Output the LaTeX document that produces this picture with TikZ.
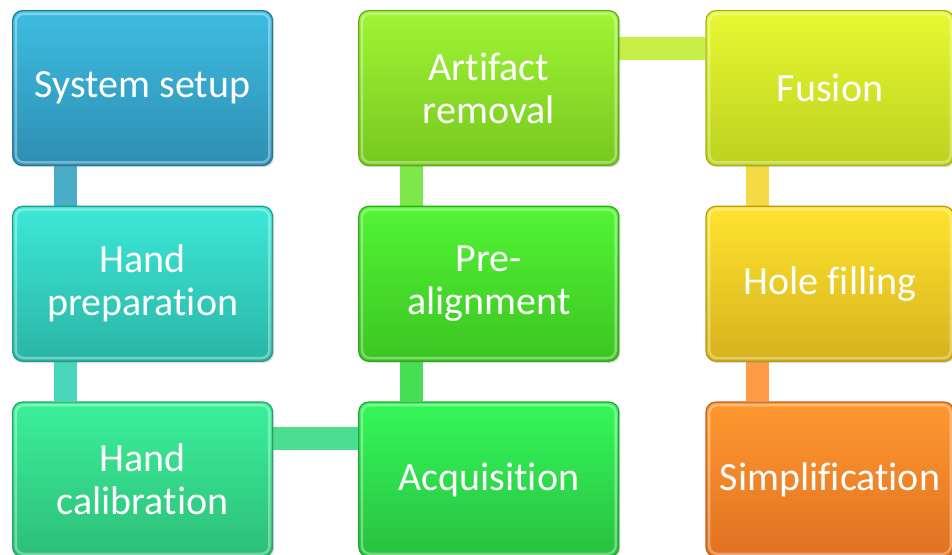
\documentclass[tikz,border=0pt]{standalone}
\usepackage{fontspec}
\setmainfont{Carlito}[RawFeature={-liga;-clig;-calt;-dlig}]
\usetikzlibrary{positioning,shadows,backgrounds}

\definecolor{setupT}{HTML}{3DBDE0}\definecolor{setupB}{HTML}{2E8EB3}
\definecolor{prepT}{HTML}{3CE8D8}\definecolor{prepB}{HTML}{2AB5A5}
\definecolor{calibT}{HTML}{3BF09A}\definecolor{calibB}{HTML}{2DBE78}
\definecolor{artifT}{HTML}{A0F535}\definecolor{artifB}{HTML}{76C81E}
\definecolor{prealT}{HTML}{52F535}\definecolor{prealB}{HTML}{3CC422}
\definecolor{acqT}{HTML}{35F85A}\definecolor{acqB}{HTML}{28C040}
\definecolor{fusT}{HTML}{E8F832}\definecolor{fusB}{HTML}{BDD11F}
\definecolor{holeT}{HTML}{FFE42E}\definecolor{holeB}{HTML}{D6B21E}
\definecolor{simpT}{HTML}{FF9830}\definecolor{simpB}{HTML}{E07222}

\tikzset{
  stage/.style 2 args={rounded corners=5pt,minimum width=130pt,minimum height=77.5pt,
    inner sep=2pt,align=center,text=white,font=\fontsize{20pt}{21.5pt}\selectfont,
    top color=#1,bottom color=#2,draw=#2!85!black,line width=0.6pt,
    drop shadow={opacity=0.25,shadow xshift=0.8pt,shadow yshift=-0.8pt},
    path picture={\draw[white,opacity=0.35,line width=1.2pt,rounded corners=4pt]
      ([shift={(1.6pt,-1.6pt)}]path picture bounding box.north west) rectangle
      ([shift={(-1.6pt,1.6pt)}]path picture bounding box.south east);}},
}

\begin{document}
\begin{tikzpicture}[node distance=19.75pt and 42.5pt]
    \useasboundingbox (0,0) rectangle (476pt,-277pt);

    \node[stage={setupT}{setupB},anchor=north west] (setup) at (6pt,-5pt) {System setup};
    \node[stage={prepT}{prepB},below=of setup] (prep) {Hand\\preparation};
    \node[stage={calibT}{calibB},below=of prep] (calib) {Hand\\calibration};

    \node[stage={acqT}{acqB},right=of calib] (acq) {Acquisition};
    \node[stage={prealT}{prealB},above=of acq] (preal) {Pre-\\alignment};
    \node[stage={artifT}{artifB},above=of preal] (artif) {Artifact\\removal};

    \node[stage={fusT}{fusB},minimum width=124pt,anchor=north west] (fus) at ([xshift=43pt]artif.north east) {Fusion};
    \node[stage={holeT}{holeB},minimum width=124pt,below=of fus] (hole) {Hole filling};
    \node[stage={simpT}{simpB},minimum width=124pt,below=of hole] (simp) {Simplification};

    \begin{scope}[on background layer]
    \path[line width=11.5pt]
    ([xshift=26.5pt]setup.south west) edge[draw={rgb,255:red,74;green,173;blue,200}] ([xshift=26.5pt]prep.north west)
    ([xshift=26.5pt]prep.south west) edge[draw={rgb,255:red,72;green,214;blue,186}] ([xshift=26.5pt]calib.north west)
    ([yshift=-18.5pt]calib.north east) edge[draw={rgb,255:red,75;green,221;blue,144}] ([yshift=-18.5pt]acq.north west)
    ([xshift=26.5pt]acq.north west) edge[draw={rgb,255:red,69;green,222;blue,85}] ([xshift=26.5pt]preal.south west)
    ([xshift=26.5pt]preal.north west) edge[draw={rgb,255:red,126;green,232;blue,74}] ([xshift=26.5pt]artif.south west)
    ([yshift=-19.25pt]artif.north east) edge[draw={rgb,255:red,200;green,239;blue,69}] ([yshift=-19.25pt]fus.north west)
    ([xshift=26pt]fus.south west) edge[draw={rgb,255:red,246;green,218;blue,69}] ([xshift=26pt]hole.north west)
    ([xshift=26pt]hole.south west) edge[draw={rgb,255:red,255;green,154;blue,69}] ([xshift=26pt]simp.north west)
    ;
    \end{scope}
\end{tikzpicture}
\end{document}
